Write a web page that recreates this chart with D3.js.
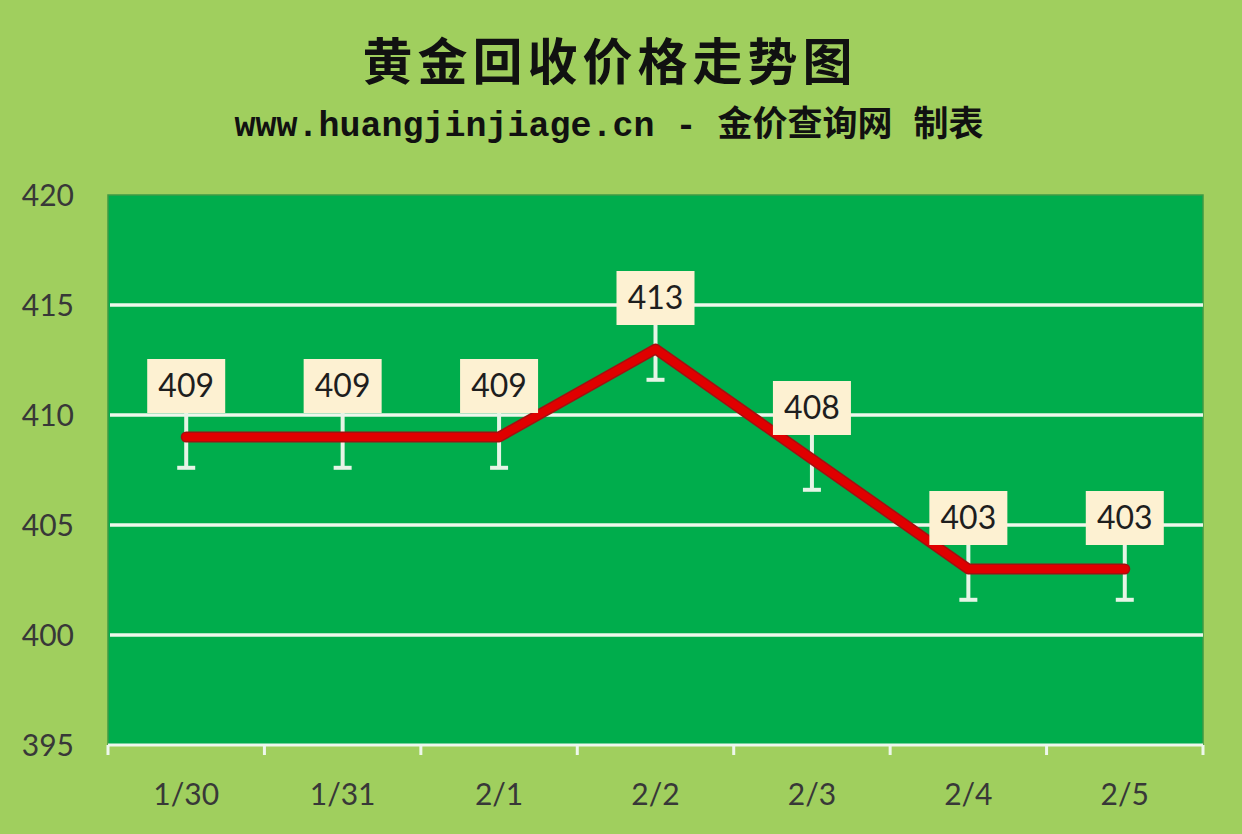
<!DOCTYPE html>
<html><head><meta charset="utf-8">
<script src="https://cdn.jsdelivr.net/npm/d3@7/dist/d3.min.js"></script>
<style>html,body{margin:0;padding:0;background:#a0cf5e;}svg{display:block;}</style>
</head><body>
<svg id="c" width="1242" height="834"></svg>
<script>
const categories = ["1/30","1/31","2/1","2/2","2/3","2/4","2/5"];
const prices = [409,409,409,413,408,403,403];
const errorLow = [1.4,1.4,1.4,1.4,1.4,1.4,1.4];
const yTicks = [395,400,405,410,415,420];
const title = "黄金回收价格走势图";
const subtitle = "www.huangjinjiage.cn - 金价查询网 制表";

const svg = d3.select("#c");
const W = 1242, H = 834;
const m = {left:108, right:1203, top:195, bottom:745};

svg.append("rect").attr("width",W).attr("height",H).attr("fill","#a0cf5e");

const x = d3.scaleBand().domain(categories).range([m.left,m.right]).padding(0);
const y = d3.scaleLinear().domain([395,420]).range([m.bottom,m.top]);

// plot area
svg.append("rect").attr("x",m.left).attr("y",m.top).attr("width",m.right-m.left).attr("height",m.bottom-m.top)
  .attr("fill","#00ad4c").attr("stroke","#3e9a46").attr("stroke-width",1.5);

// gridlines
svg.append("g").selectAll("line").data(yTicks.filter(t=>t>395 && t<420)).join("line")
  .attr("x1",m.left+2).attr("x2",m.right).attr("y1",d=>y(d)).attr("y2",d=>y(d))
  .attr("stroke","#eef7ec").attr("stroke-width",3.5);

// y axis labels
const yAxis = d3.axisLeft(y).tickValues(yTicks).tickSize(0).tickPadding(0);
const gy = svg.append("g").attr("transform",`translate(74,0)`).call(yAxis);
gy.select(".domain").remove();
gy.selectAll("text").attr("font-family","Lato, 'Open Sans', sans-serif").attr("font-size",30).attr("fill","#383838").attr("dy","0.35em");

// x axis
const gx = svg.append("g").attr("transform",`translate(0,${m.bottom})`);
gx.append("line").attr("x1",m.left).attr("x2",m.right).attr("y1",0).attr("y2",0).attr("stroke","#eef7ec").attr("stroke-width",3);
const bounds = categories.map(c=>x(c)).concat([m.right]);
gx.selectAll("line.tk").data(bounds).join("line").attr("class","tk")
  .attr("x1",d=>d).attr("x2",d=>d).attr("y1",0).attr("y2",10).attr("stroke","#eef7ec").attr("stroke-width",3);
gx.selectAll("text").data(categories).join("text")
  .attr("x",d=>x(d)+x.bandwidth()/2).attr("y",60).attr("text-anchor","middle")
  .attr("font-family","Lato, 'Open Sans', sans-serif").attr("font-size",30).attr("fill","#383838").text(d=>d);

const cx = d => x(d)+x.bandwidth()/2;
const data = categories.map((c,i)=>({c, v:prices[i], e:errorLow[i]}));

// error bars
const eb = svg.append("g");
eb.selectAll("line.v").data(data).join("line").attr("class","v")
  .attr("x1",d=>cx(d.c)).attr("x2",d=>cx(d.c)).attr("y1",d=>y(d.v+d.e)).attr("y2",d=>y(d.v-d.e))
  .attr("stroke","#e6f4e6").attr("stroke-width",4);
eb.selectAll("line.cap").data(data).join("line").attr("class","cap")
  .attr("x1",d=>cx(d.c)-9).attr("x2",d=>cx(d.c)+9).attr("y1",d=>y(d.v-d.e)).attr("y2",d=>y(d.v-d.e))
  .attr("stroke","#e6f4e6").attr("stroke-width",4);

// line
const line = d3.line().x(d=>cx(d.c)).y(d=>y(d.v));
svg.append("path").datum(data).attr("d",line).attr("fill","none").attr("stroke","#a31010")
  .attr("stroke-width",11).attr("stroke-linejoin","round").attr("stroke-linecap","round");
svg.append("path").datum(data).attr("d",line).attr("fill","none").attr("stroke","#e00000")
  .attr("stroke-width",8).attr("stroke-linejoin","round").attr("stroke-linecap","round");

// labels
const lb = svg.append("g").selectAll("g").data(data).join("g")
  .attr("transform",d=>`translate(${cx(d.c)},${y(d.v)-24})`);
lb.append("rect").attr("x",-39).attr("y",-54).attr("width",78).attr("height",54).attr("fill","#fdf1d2");
lb.append("text").attr("x",0).attr("y",-16).attr("text-anchor","middle")
  .attr("font-family","Lato, 'Open Sans', sans-serif").attr("font-size",32).attr("fill","#1e1e1e").text(d=>d.v);

// titles
svg.append("text").attr("x",610).attr("y",80).attr("text-anchor","middle")
  .attr("font-family","'Noto Sans CJK SC', sans-serif").attr("font-weight",700).attr("font-size",50)
  .attr("letter-spacing",5).attr("fill","#111").text(title);
svg.append("text").attr("x",609).attr("y",136).attr("text-anchor","middle")
  .attr("font-family","'Liberation Mono','Noto Sans CJK SC', monospace").attr("font-weight",700).attr("font-size",35)
  .attr("fill","#111").text(subtitle);
</script>
</body></html>
